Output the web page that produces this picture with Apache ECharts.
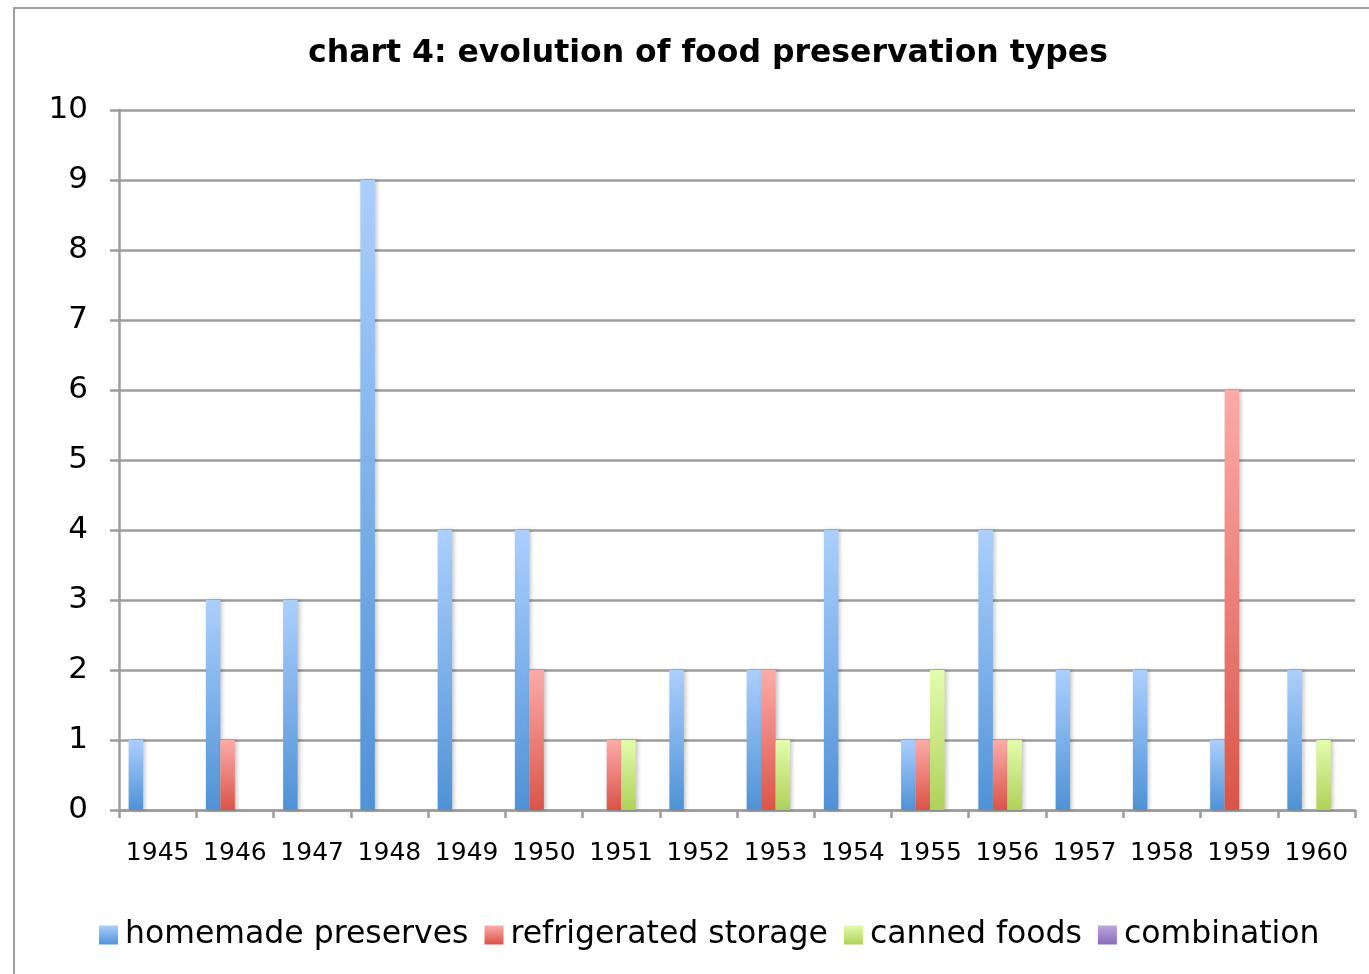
<!DOCTYPE html>
<html>
<head>
<meta charset="utf-8">
<script src="https://cdn.jsdelivr.net/npm/echarts@6/dist/echarts.min.js"></script>
<style>
  html, body { margin: 0; padding: 0; background: #fff; }
  #chart { width: 1369px; height: 974px; }
</style>
</head>
<body>
<div id="chart"></div>
<script>
// Years on the category axis
const years = ['1945','1946','1947','1948','1949','1950','1951','1952','1953','1954','1955','1956','1957','1958','1959','1960'];

// Counts per year for each preservation type
const homemadePreserves   = [1, 3, 3, 9, 4, 4, 0, 2, 2, 4, 1, 4, 2, 2, 1, 2];
const refrigeratedStorage = [0, 1, 0, 0, 0, 2, 1, 0, 2, 0, 1, 1, 0, 0, 6, 0];
const cannedFoods         = [0, 0, 0, 0, 0, 0, 1, 0, 1, 0, 2, 1, 0, 0, 0, 1];
const combination         = [0, 0, 0, 0, 0, 0, 0, 0, 0, 0, 0, 0, 0, 0, 0, 0];

const yTicks = [0, 1, 2, 3, 4, 5, 6, 7, 8, 9, 10];

const FONT = '"DejaVu Sans", Verdana, sans-serif';
const GRID_GRAY = '#9c9c9c';

function grad(top, bottom) {
  return new echarts.graphic.LinearGradient(0, 0, 0, 1, [
    { offset: 0, color: top },
    { offset: 1, color: bottom }
  ]);
}

function barSeries(name, data, top, bottom) {
  return {
    name: name,
    type: 'bar',
    data: data,
    barWidth: 14.5,
    barGap: '0%',
    itemStyle: {
      color: grad(top, bottom),
      shadowColor: 'rgba(0,0,0,0.22)',
      shadowBlur: 4,
      shadowOffsetX: 2,
      shadowOffsetY: 0
    }
  };
}

const chart = echarts.init(document.getElementById('chart'));
chart.setOption({
  backgroundColor: '#ffffff',
  animation: false,
  graphic: [{
    type: 'rect',
    shape: { x: 14, y: 8, width: 1400, height: 1000 },
    style: { fill: 'none', stroke: '#9e9e9e', lineWidth: 2 },
    z: -1
  }],
  title: {
    text: 'chart 4: evolution of food preservation types',
    left: 703,
    textAlign: 'center',
    top: 33,
    textStyle: { fontFamily: FONT, fontWeight: 'bold', fontSize: 31.5, color: '#000' }
  },
  legend: {
    top: 919,
    left: 99,
    padding: 0,
    itemWidth: 19,
    itemHeight: 19,
    itemGap: 16,
    icon: 'rect',
    textStyle: { fontFamily: FONT, fontSize: 31.5, color: '#000', padding: [0, 0, 0, 2] },
    data: ['homemade preserves', 'refrigerated storage', 'canned foods', 'combination']
  },
  grid: { left: 119, right: 14, top: 110, bottom: 164 },
  xAxis: {
    type: 'category',
    data: years,
    axisLine: { lineStyle: { color: GRID_GRAY, width: 2.5 } },
    axisTick: { show: true, length: 8, interval: 0, lineStyle: { color: GRID_GRAY, width: 2.5 } },
    axisLabel: { fontFamily: FONT, fontSize: 25, color: '#000', margin: 31, interval: 0 }
  },
  yAxis: {
    type: 'value',
    min: yTicks[0],
    max: yTicks[yTicks.length - 1],
    interval: 1,
    axisLine: { show: true, lineStyle: { color: GRID_GRAY, width: 2.5 } },
    axisTick: { show: true, length: 9, lineStyle: { color: GRID_GRAY, width: 2.5 } },
    axisLabel: { fontFamily: FONT, fontSize: 31, color: '#000', margin: 31, padding: [4, 0, 0, 0] },
    splitLine: { lineStyle: { color: GRID_GRAY, width: 2.5 } }
  },
  series: [
    barSeries('homemade preserves', homemadePreserves, '#abcffd', '#4f92d6'),
    barSeries('refrigerated storage', refrigeratedStorage, '#fdaba8', '#da5448'),
    barSeries('canned foods', cannedFoods, '#e3fcac', '#b0d15a'),
    barSeries('combination', combination, '#bca6dc', '#8a6bbb')
  ]
});
</script>
</body>
</html>
